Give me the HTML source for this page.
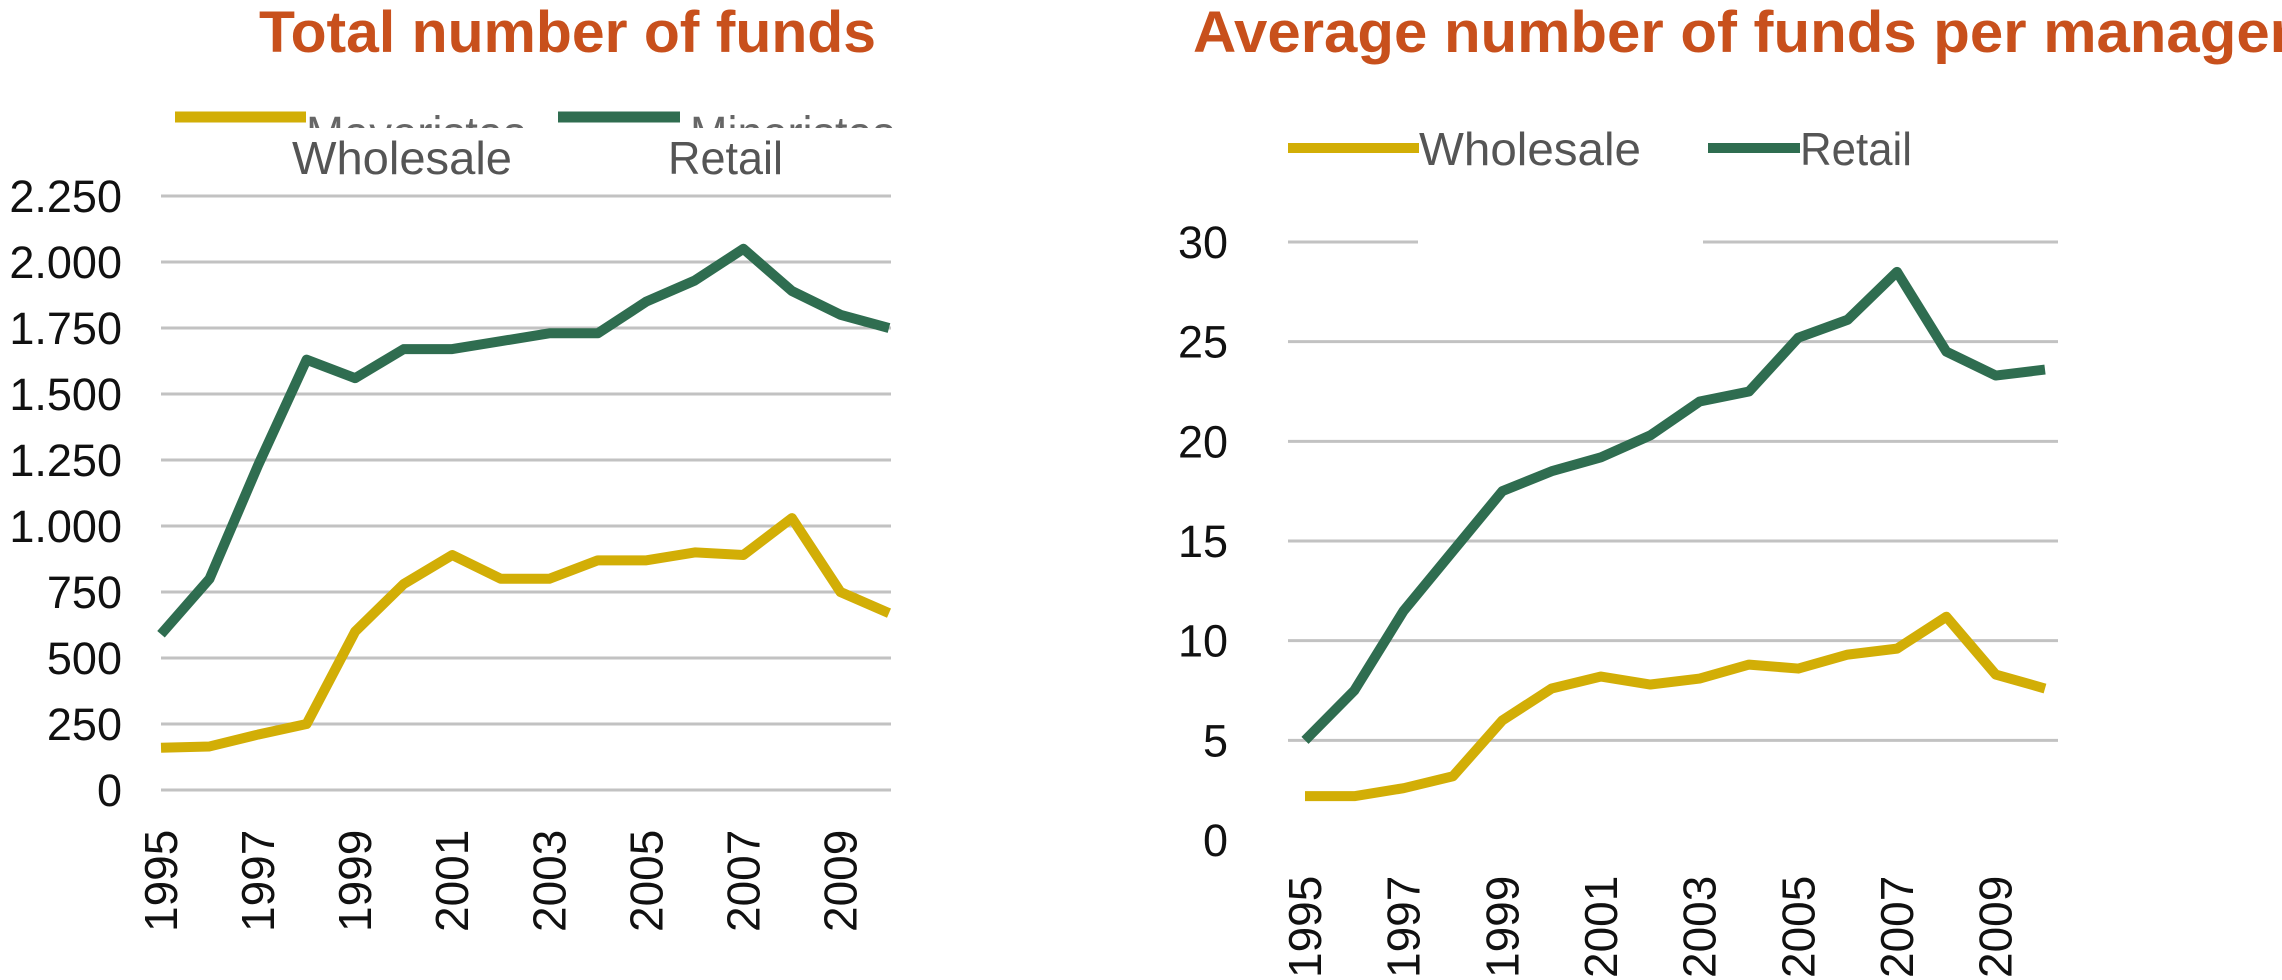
<!DOCTYPE html>
<html><head><meta charset="utf-8"><style>
html,body{margin:0;padding:0;background:#fff;overflow:hidden}
svg{display:block;font-family:"Liberation Sans",sans-serif}
</style></head><body>
<svg id="c" width="2282" height="980" viewBox="0 0 2282 980"></svg>
<script>
const years=[1995,1996,1997,1998,1999,2000,2001,2002,2003,2004,2005,2006,2007,2008,2009,2010];
const yearLabels=[1995,1997,1999,2001,2003,2005,2007,2009];
const totalRetail=[590,800,1230,1630,1560,1670,1670,1700,1730,1730,1850,1930,2050,1890,1800,1750];
const totalWholesale=[160,165,210,250,600,780,890,800,800,870,870,900,890,1030,750,670];
const totalTicks=[0,250,500,750,1000,1250,1500,1750,2000,2250];
const totalTickLabels=["0","250","500","750","1.000","1.250","1.500","1.750","2.000","2.250"];
const avgRetail=[5,7.5,11.5,14.5,17.5,18.5,19.2,20.3,22,22.5,25.2,26.1,28.5,24.5,23.3,23.6];
const avgWholesale=[2.2,2.2,2.6,3.2,6,7.6,8.2,7.8,8.1,8.8,8.6,9.3,9.6,11.2,8.3,7.6];
const avgTicks=[0,5,10,15,20,25,30];
const avgTickLabels=["0","5","10","15","20","25","30"];

const NS="http://www.w3.org/2000/svg";
const svg=document.getElementById('c');
function mk(tag,attrs,parent){const e=document.createElementNS(NS,tag);for(const k in attrs)e.setAttribute(k,attrs[k]);(parent||svg).appendChild(e);return e;}
const YEL="#d2ae06",GRN="#2f6d50",GRID="#c2c2c2";

function chart(o){
  const g=mk('g',{});
  
  
  const x=i=>o.x0+(o.x1-o.x0)*(years[i]-years[0])/(years[years.length-1]-years[0]);
  const xy=yr=>o.x0+(o.x1-o.x0)*(yr-years[0])/(years[years.length-1]-years[0]);
  const y=v=>o.y0+(o.yTop-o.y0)*v/o.max;
  o.ticks.forEach((t,i)=>{
    if(!(o.skipZeroGrid&&t===0)){
      const l=mk('line',{x1:o.gx0,x2:o.gx1,y1:y(t),y2:y(t),stroke:GRID,'stroke-width':3},g);
      
      
    }
    const tx=mk('text',{x:o.labelX,y:y(t)+16,'text-anchor':'end','font-size':45,fill:'#111'},g);
    
    
    tx.textContent=o.tickLabels[i];
  });
  if(o.gap){mk('rect',{x:o.gap[0],y:y(o.max)-4,width:o.gap[1]-o.gap[0],height:8,fill:'#fff'},g);}
  yearLabels.forEach(yr=>{
    const tx=mk('text',{transform:`translate(${xy(yr)+16},${o.xLabY}) rotate(-90)`,'text-anchor':'start','font-size':46,fill:'#111'},g);
    
    
    tx.textContent=yr;
  });
  [[o.wh,YEL,'wholesale-line'],[o.re,GRN,'retail-line']].forEach(([d,c,n])=>{
    const p=mk('polyline',{points:d.map((v,i)=>x(i)+','+y(v)).join(' '),fill:'none',stroke:c,'stroke-width':10,'stroke-linejoin':'round'},g);
    
    
  });
  return g;
}

let t=mk('text',{x:259,y:52,'font-size':58,'font-weight':'bold',fill:'#c8501c',textLength:617,lengthAdjust:'spacingAndGlyphs'});


t.textContent='Total number of funds';
t=mk('text',{x:1193,y:52,'font-size':58,'font-weight':'bold',fill:'#c8501c',textLength:1100,lengthAdjust:'spacingAndGlyphs'});


t.textContent='Average number of funds per manager';

const clip=mk('clipPath',{id:'lc'});mk('rect',{x:0,y:100,width:1000,height:28},clip);
let lg=mk('g',{'clip-path':'url(#lc)'});


mk('line',{x1:175,x2:306,y1:117,y2:117,stroke:YEL,'stroke-width':11},lg);
mk('text',{x:306,y:150,'font-size':48,fill:'#666',textLength:220,lengthAdjust:'spacingAndGlyphs'},lg).textContent='Mayoristas';
mk('line',{x1:558,x2:680,y1:117,y2:117,stroke:GRN,'stroke-width':11},lg);
mk('text',{x:690,y:150,'font-size':48,fill:'#666',textLength:205,lengthAdjust:'spacingAndGlyphs'},lg).textContent='Minoristas';
t=mk('text',{x:292,y:174,'font-size':46,fill:'#555',textLength:220,lengthAdjust:'spacingAndGlyphs'});


t.textContent='Wholesale';
t=mk('text',{x:668,y:174,'font-size':46,fill:'#555',textLength:115,lengthAdjust:'spacingAndGlyphs'});


t.textContent='Retail';

mk('line',{x1:1288,x2:1419,y1:148,y2:148,stroke:YEL,'stroke-width':10});
t=mk('text',{x:1419,y:165,'font-size':46,fill:'#555',textLength:222,lengthAdjust:'spacingAndGlyphs'});


t.textContent='Wholesale';
mk('line',{x1:1708,x2:1800,y1:148,y2:148,stroke:GRN,'stroke-width':10});
t=mk('text',{x:1800,y:165,'font-size':46,fill:'#555',textLength:112,lengthAdjust:'spacingAndGlyphs'});


t.textContent='Retail';

chart({name:'total-funds-chart',x0:161,x1:889,gx0:161,gx1:891,y0:790,yTop:196,max:2250,ticks:totalTicks,tickLabels:totalTickLabels,labelX:122,xLabY:932,wh:totalWholesale,re:totalRetail});
chart({name:'avg-funds-chart',x0:1305,x1:2045,gx0:1288,gx1:2058,y0:840,yTop:242,max:30,ticks:avgTicks,tickLabels:avgTickLabels,labelX:1228,xLabY:978,wh:avgWholesale,re:avgRetail,skipZeroGrid:true,gap:[1418,1703]});
</script>
</body></html>
